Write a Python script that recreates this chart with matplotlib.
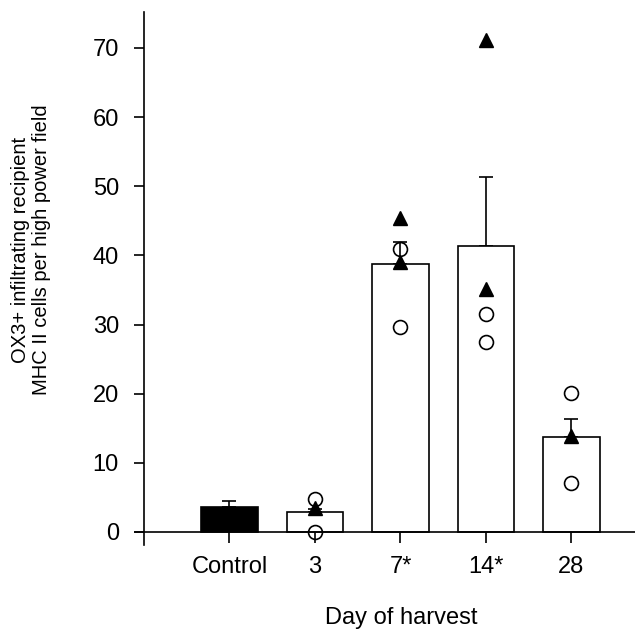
import numpy as np
import matplotlib
matplotlib.use('Agg')
from matplotlib import pyplot as plt

plt.rcParams['font.family'] = ['Liberation Sans', 'DejaVu Sans']

# chart data
groups = ['Control', '3', '7*', '14*', '28']
means = [3.66, 2.85, 38.8, 41.3, 13.7]
err_up = [0.84, 0.45, 3.2, 10.0, 2.6]
bar_colors = ['black', 'white', 'white', 'white', 'white']

# individual animals (open circles / filled triangles), index into groups
circle_group = [1, 1, 2, 2, 3, 3, 4, 4]
circle_vals = [4.8, 0.0, 40.9, 29.6, 31.5, 27.5, 20.1, 7.1]
tri_group = [1, 2, 2, 3, 3, 4]
tri_vals = [3.4, 45.4, 39.1, 71.2, 35.1, 13.9]

yticks = [0, 10, 20, 30, 40, 50, 60, 70]

fig = plt.figure(figsize=(6.35, 6.31), dpi=100)
ax = fig.add_axes([135 / 635, 1 - 545 / 631, 500 / 635, 533 / 631])

x = np.arange(1, len(groups) + 1)
ax.bar(x, means, width=0.665, color=bar_colors, edgecolor='black',
       linewidth=1.2, zorder=2)
ax.errorbar(x, means, yerr=[np.zeros(len(x)), err_up], fmt='none',
            ecolor='black', elinewidth=1.2, capsize=5, capthick=1.2, zorder=1)

ax.plot(np.array(circle_group) + 1, circle_vals, 'o', ms=10, mfc='none',
        mec='black', mew=1.2, zorder=4)
ax.plot(np.array(tri_group) + 1, tri_vals, '^', ms=10, color='black', zorder=4)

ax.set_xlim(-0.105, 5.743)
ax.set_ylim(-1.88, 75.2)

ax.spines['top'].set_visible(False)
ax.spines['right'].set_visible(False)
ax.spines['left'].set_position(('data', 0))
ax.spines['bottom'].set_position(('data', 0))
for s in ['left', 'bottom']:
    ax.spines[s].set_linewidth(1.2)

ax.set_yticks(yticks)
ax.tick_params(axis='y', direction='out', length=7, width=1.2, pad=11, labelsize=17)
ax.set_xticks(x)
ax.set_xticklabels(groups)
ax.tick_params(axis='x', direction='out', length=8, width=1.2, pad=9, labelsize=17)

fig.text(401 / 635, 1 - 618 / 631, 'Day of harvest', ha='center', va='center',
         fontsize=17)
fig.text(31 / 635, 1 - 250 / 631,
         'OX3+ infiltrating recipient\nMHC II cells per high power field',
         rotation=90, ha='center', va='center', multialignment='center',
         fontsize=14.5, linespacing=1.15)

fig.savefig('out.png', dpi=100)
